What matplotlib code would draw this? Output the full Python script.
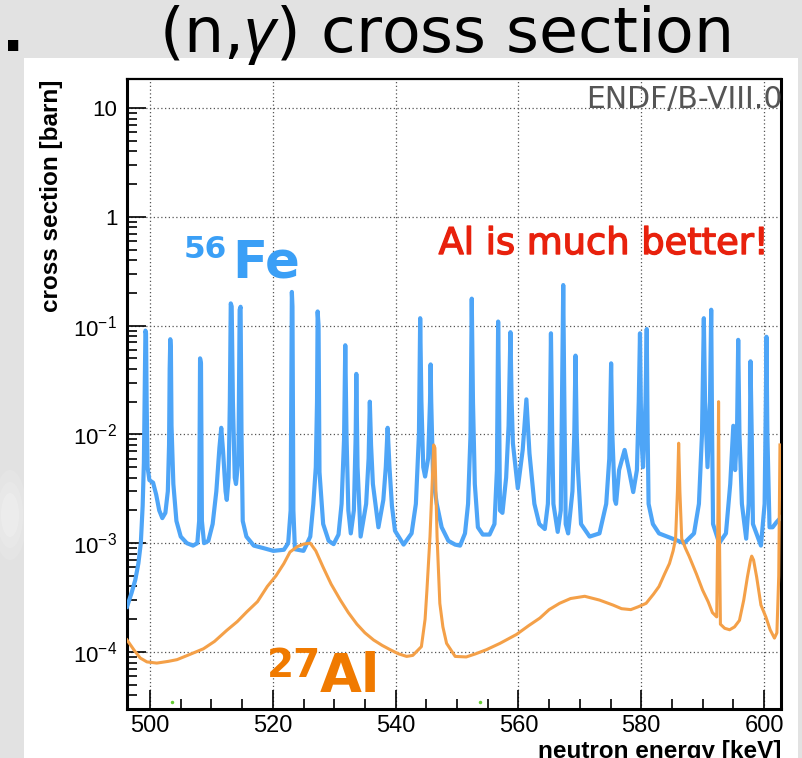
import matplotlib
matplotlib.use('Agg')
import matplotlib.pyplot as plt
from matplotlib.patches import Rectangle, Ellipse
from matplotlib.ticker import MultipleLocator, LogLocator, FixedLocator, FixedFormatter, NullFormatter
import matplotlib.patheffects as pe

plt.rcParams['mathtext.fontset'] = 'custom'
plt.rcParams['mathtext.rm'] = 'Liberation Sans'
plt.rcParams['mathtext.it'] = 'Liberation Sans:italic'
plt.rcParams['mathtext.bf'] = 'Liberation Sans:bold'

# ---------------- data ----------------
fe_energy = [496.25, 497.0, 497.6, 498.1, 498.5, 498.8, 499.0, 499.15, 499.25, 499.35, 499.45, 499.6, 499.9,
             500.5, 501.0, 501.5, 502.0, 502.5, 502.9, 503.1, 503.2, 503.3, 503.4, 503.5, 503.8, 504.3,
             505.0, 506.0, 507.0, 507.7, 508.0, 508.15, 508.3, 508.45, 508.8, 509.5, 510.2, 510.8, 511.3,
             511.6, 511.9, 512.3, 512.5, 512.8, 513.0, 513.15, 513.3, 513.5, 513.8, 514.0, 514.4, 514.6,
             514.75, 514.9, 515.1, 515.7, 516.9, 518.5, 520.1, 521.8, 522.5, 522.9, 523.0, 523.1, 523.2,
             523.35, 523.6, 525.0, 526.1, 526.6, 527.0, 527.2, 527.3, 527.45, 527.6, 528.2, 529.1, 529.9,
             530.7, 531.2, 531.6, 531.8, 532.0, 532.3, 532.7, 533.2, 533.5, 533.6, 533.8, 534.3, 535.2,
             535.6, 535.8, 536.0, 536.3, 537.2, 538.0, 538.4, 538.7, 539.0, 539.4, 539.9, 541.3, 542.6,
             543.3, 543.8, 544.0, 544.2, 544.5, 544.8, 545.3, 545.6, 545.7, 545.8, 546.1, 546.7, 547.5,
             548.6, 549.7, 550.5, 551.3, 551.8, 552.2, 552.4, 552.6, 552.9, 553.4, 554.2, 555.3, 556.1,
             556.5, 556.7, 556.85, 557.0, 557.4, 558.0, 558.4, 558.7, 558.9, 559.1, 559.9, 560.7, 561.3,
             561.8, 562.6, 563.4, 564.3, 564.8, 565.1, 565.3, 565.5, 565.7, 566.4, 566.9, 567.1, 567.3,
             567.45, 567.7, 568.1, 568.8, 569.1, 569.3, 569.5, 569.7, 570.2, 571.6, 573.2, 574.3, 574.8,
             575.1, 575.3, 575.7, 575.9, 576.4, 577.3, 578.0, 578.7, 579.3, 579.6, 579.8, 580.0, 580.3,
             580.7, 580.9, 581.05, 581.2, 581.9, 582.9, 585.1, 587.0, 588.6, 589.4, 589.9, 590.2, 590.4,
             590.8, 591.2, 591.4, 591.55, 591.7, 592.7, 593.8, 594.5, 595.0, 595.3, 595.6, 595.8, 596.0,
             596.4, 597.1, 597.5, 597.7, 597.8, 598.0, 598.2, 599.5, 600.1, 600.3, 600.4, 600.55, 600.9,
             601.4, 602.0, 602.85]
fe_xs = [2.6e-4, 3.5e-4, 4.6e-4, 6.5e-4, 1.0e-3, 2.2e-3, 5.5e-3, 0.03, 0.09, 0.085, 0.02, 5.0e-3, 3.8e-3,
         3.6e-3, 2.8e-3, 2.0e-3, 1.7e-3, 1.9e-3, 3.0e-3, 8.0e-3, 0.04, 0.075, 0.06, 0.012, 3.5e-3, 1.6e-3,
         1.15e-3, 1.0e-3, 9.5e-4, 1.0e-3, 1.6e-3, 0.05, 0.045, 1.6e-3, 1.0e-3, 1.05e-3, 1.5e-3, 3.0e-3, 7.5e-3,
         0.0115, 7.0e-3, 3.0e-3, 2.5e-3, 4.0e-3, 0.02, 0.16, 0.15, 0.02, 4.0e-3, 3.5e-3, 6.0e-3, 0.14,
         0.149, 0.01, 1.6e-3, 1.15e-3, 9.5e-4, 9.0e-4, 8.5e-4, 8.7e-4, 1.0e-3, 2.0e-3, 0.02, 0.204, 0.15,
         2.0e-3, 8.8e-4, 8.5e-4, 1.15e-3, 2.3e-3, 5.0e-3, 0.02, 0.135, 0.1, 4.5e-3, 1.5e-3, 1.05e-3, 9.8e-4,
         1.2e-3, 2.3e-3, 9.0e-3, 0.066, 0.01, 2.0e-3, 1.23e-3, 2.0e-3, 0.01, 0.036, 5.0e-3, 1.15e-3, 2.3e-3,
         6.0e-3, 0.02, 8.0e-3, 3.5e-3, 1.4e-3, 2.5e-3, 5.0e-3, 0.0115, 5.0e-3, 2.2e-3, 1.3e-3, 9.7e-4, 1.23e-3,
         2.3e-3, 0.01, 0.117, 0.02, 5.0e-3, 4.1e-3, 6.0e-3, 0.02, 0.044, 0.02, 4.0e-3, 2.3e-3, 1.4e-3,
         1.05e-3, 9.7e-4, 9.5e-4, 1.23e-3, 2.3e-3, 0.01, 0.177, 0.02, 3.5e-3, 1.4e-3, 1.2e-3, 1.2e-3, 1.5e-3,
         4.7e-3, 0.109, 0.02, 2.0e-3, 1.9e-3, 4.0e-3, 0.012, 0.087, 0.02, 8.3e-3, 3.2e-3, 7.2e-3, 0.021,
         6.7e-3, 2.3e-3, 1.5e-3, 1.35e-3, 2.3e-3, 0.01, 0.085, 0.01, 2.3e-3, 1.27e-3, 2.0e-3, 0.02, 0.236,
         0.03, 1.5e-3, 1.23e-3, 3.0e-3, 0.01, 0.053, 0.01, 4.7e-3, 1.5e-3, 1.15e-3, 1.23e-3, 2.3e-3, 6.0e-3,
         0.045, 0.01, 2.5e-3, 2.3e-3, 4.7e-3, 7.2e-3, 4.7e-3, 2.95e-3, 4.7e-3, 0.02, 0.085, 0.01, 5.0e-3,
         0.02, 0.093, 0.01, 2.3e-3, 1.5e-3, 1.23e-3, 1.1e-3, 1.0e-3, 1.23e-3, 2.3e-3, 0.01, 0.117, 0.02,
         5.0e-3, 0.02, 0.14, 0.01, 1.5e-3, 1.0e-3, 1.23e-3, 3.5e-3, 0.012, 4.7e-3, 0.01, 0.074, 0.01,
         2.3e-3, 1.1e-3, 2.3e-3, 0.01, 0.047, 0.01, 1.5e-3, 9.5e-4, 2.3e-3, 0.02, 0.079, 0.01, 1.4e-3,
         1.4e-3, 1.55e-3, 1.75e-3]

al_energy = [496.25, 497.4, 498.4, 499.5, 501.1, 503.0, 504.4, 506.5, 508.7, 510.5, 512.5, 514.2, 515.8,
             517.5, 519.1, 520.5, 521.8, 522.8, 524.0, 525.0, 526.1, 527.0, 528.2, 529.5, 531.0, 532.3,
             533.7, 535.0, 536.4, 537.8, 539.1, 540.5, 541.8, 542.8, 544.2, 544.8, 545.1, 545.6, 545.95,
             546.2, 546.4, 546.6, 546.75, 547.2, 547.7, 548.3, 549.7, 551.5, 553.0, 554.8, 557.0, 559.7,
             561.7, 563.5, 565.0, 566.7, 568.5, 570.8, 573.2, 575.4, 576.8, 578.3, 579.5, 580.8, 582.0,
             582.9, 583.8, 584.6, 585.2, 585.6, 585.9, 586.1, 586.3, 586.6, 587.2, 587.8, 589.0, 590.0,
             590.9, 591.6, 592.3, 592.5, 592.6, 592.7, 592.9, 593.6, 594.4, 595.2, 596.0, 596.7, 597.3,
             597.8, 598.0, 598.3, 598.8, 599.5, 600.3, 601.0, 601.7, 602.1, 602.4, 602.6]
al_xs = [1.29e-4, 1.04e-4, 8.8e-5, 8.1e-5, 7.9e-5, 8.2e-5, 8.5e-5, 9.5e-5, 1.07e-4, 1.25e-4, 1.58e-4, 1.9e-4,
         2.35e-4, 2.9e-4, 4.0e-4, 5.0e-4, 6.5e-4, 8.3e-4, 9.3e-4, 9.8e-4, 1.0e-3, 8.5e-4, 6.0e-4, 4.2e-4,
         3.0e-4, 2.3e-4, 1.8e-4, 1.5e-4, 1.29e-4, 1.15e-4, 1.05e-4, 9.6e-5, 9.1e-5, 9.3e-5, 1.12e-4, 2.0e-4,
         3.7e-4, 1.15e-3, 3.5e-3, 8.0e-3, 7.5e-3, 2.5e-3, 1.15e-3, 2.8e-4, 1.7e-4, 1.2e-4, 9.1e-5, 9.0e-5,
         9.6e-5, 1.05e-4, 1.2e-4, 1.45e-4, 1.75e-4, 2.05e-4, 2.45e-4, 2.8e-4, 3.1e-4, 3.25e-4, 3.0e-4,
         2.7e-4, 2.5e-4, 2.45e-4, 2.6e-4, 2.8e-4, 3.4e-4, 4.0e-4, 5.2e-4, 6.5e-4, 8.5e-4, 1.1e-3, 3.0e-3,
         8.3e-3, 3.0e-3, 1.1e-3, 9.0e-4, 7.6e-4, 5.2e-4, 3.7e-4, 2.9e-4, 2.3e-4, 2.1e-4, 2.0e-3, 0.02,
         2.0e-3, 1.8e-4, 1.65e-4, 1.6e-4, 1.7e-4, 1.95e-4, 3.0e-4, 4.9e-4, 7.0e-4, 7.6e-4, 7.0e-4, 4.9e-4,
         2.7e-4, 2.1e-4, 1.6e-4, 1.34e-4, 1.5e-4, 5.0e-4, 8.0e-3]

other_energy = [503.5, 553.8]
other_xs = [3.5e-5, 3.5e-5]

x_ticks = [500, 520, 540, 560, 580, 600]
x_tick_labels = ['500', '520', '540', '560', '580', '600']
y_ticks = [1e-4, 1e-3, 1e-2, 1e-1, 1, 10]
y_tick_labels = [r'$10^{-4}$', r'$10^{-3}$', r'$10^{-2}$', r'$10^{-1}$', '1', '10']

# ---------------- figure ----------------
W, H = 803, 758
fig = plt.figure(figsize=(W / 100, H / 100), dpi=100)
fig.patch.set_facecolor('#e2e2e2')


def fx(x):
    return x / W


def fy(y):
    return 1 - y / H


# white canvas of the embedded ROOT plot (drawn beneath the axes)
fig.patches.append(Rectangle((fx(24), fy(758)), (798 - 24) / W, (758 - 58) / H,
                             transform=fig.transFigure, facecolor='white', edgecolor='none', zorder=-10))
for w_, h_, a_ in [(34, 90, 0.12), (26, 66, 0.15), (18, 44, 0.2)]:
    fig.patches.append(Ellipse((fx(10), fy(515)), w_ / W, h_ / H, transform=fig.transFigure,
                               facecolor='white', edgecolor='none', alpha=a_, zorder=-9))

ax = fig.add_axes([fx(127), fy(709), (781.5 - 127) / W, (709 - 79) / H])
ax.set_facecolor('white')

blue = '#4ea5f7'
orange = '#f4a048'

ax.plot(fe_energy, fe_xs, color=blue, lw=3.0, solid_joinstyle='round', zorder=3)
ax.plot(al_energy, al_xs, color=orange, lw=2.2, solid_joinstyle='round', zorder=4)
ax.plot(other_energy, other_xs, ls='none', marker='o', ms=2.5, color='#66cc33', mec='none', zorder=4)

ax.set_yscale('log')
ax.set_xlim(496.25, 602.85)
ax.set_ylim(2.99e-5, 18.5)

ax.xaxis.set_major_locator(FixedLocator(x_ticks))
ax.xaxis.set_major_formatter(FixedFormatter(x_tick_labels))
ax.xaxis.set_minor_locator(MultipleLocator(5))
ax.yaxis.set_major_locator(FixedLocator(y_ticks))
ax.yaxis.set_major_formatter(FixedFormatter(y_tick_labels))
ax.yaxis.set_minor_locator(LogLocator(base=10, subs=[2, 3, 4, 5, 6, 7, 8, 9], numticks=20))
ax.yaxis.set_minor_formatter(NullFormatter())

ax.grid(True, which='major', color='#555555', lw=0.9, ls=(0, (1.0, 2.0)), zorder=1)
ax.set_axisbelow(True)

ax.tick_params(which='major', direction='in', length=13.5, width=1.2, color='black',
               labelsize=17, pad=4, top=False, right=False)
ax.tick_params(which='minor', direction='in', length=7, width=1.2, color='black',
               top=False, right=False)
ax.tick_params(axis='y', which='major', labelsize=16, pad=7)
for lab in ax.get_xticklabels() + ax.get_yticklabels():
    lab.set_fontfamily('Liberation Sans')

for s in ['left', 'bottom', 'right']:
    ax.spines[s].set_linewidth(2.2)
ax.spines['top'].set_linewidth(1.6)

# axis titles (ROOT style, aligned to the end of the axes)
fig.text(fx(52), fy(80), 'cross section [barn]', rotation=90, ha='center', va='top',
         fontsize=17.5, fontweight='bold', family='Liberation Sans')
fig.text(fx(781), fy(740), 'neutron energy [keV]', ha='right', va='top',
         fontsize=17.5, fontweight='bold', family='Liberation Sans')

# slide title
fig.text(fx(445), fy(52), r'(n,$\gamma$) cross section', ha='center', va='baseline',
         fontsize=45.5, family='DejaVu Sans', color='black')
fig.text(fx(2), fy(51), '.', ha='left', va='baseline', fontsize=42, family='DejaVu Sans',
         fontweight='bold', color='black')

# annotations
fig.text(fx(783), fy(108), 'ENDF/B-VIII.0', ha='right', va='baseline', fontsize=21.5,
         family='DejaVu Sans', color='#555555')
stroke_red = [pe.withStroke(linewidth=1.0, foreground='#e8210d')]
fig.text(fx(768), fy(254), 'Al is much better!', ha='right', va='baseline', fontsize=26.5,
         family='DejaVu Sans', color='#e8210d', path_effects=stroke_red)

fe_col = '#3a9ff6'
fig.text(fx(184), fy(258), '56', ha='left', va='baseline', fontsize=22.5,
         family='DejaVu Sans', color=fe_col, fontweight='bold')
fig.text(fx(232), fy(277), 'Fe', ha='left', va='baseline', fontsize=37,
         family='DejaVu Sans', color=fe_col, fontweight='bold')

al_col = '#f07a00'
fig.text(fx(267), fy(677), '27', ha='left', va='baseline', fontsize=28,
         family='DejaVu Sans', color=al_col, fontweight='bold')
fig.text(fx(320), fy(692), 'Al', ha='left', va='baseline', fontsize=39,
         family='DejaVu Sans', color=al_col, fontweight='bold')

fig.savefig('out.png', dpi=100, facecolor=fig.get_facecolor())
